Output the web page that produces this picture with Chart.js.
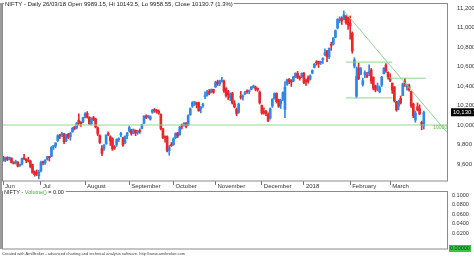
<!DOCTYPE html>
<html>
<head>
<meta charset="utf-8">
<script src="https://cdn.jsdelivr.net/npm/chart.js@4"></script>
<style>
  html, body { margin: 0; padding: 0; background: #fff; }
  body { width: 474px; height: 257px; position: relative; overflow: hidden; }
  #main { position: absolute; left: 0; top: 0; }
  #vol { position: absolute; left: 0; top: 190px; }
  #edge { position: absolute; left: 0; top: 3px; width: 2px; height: 246px; background: #9c9c9c; }
</style>
</head>
<body>
<canvas id="main" width="474" height="190" style="width:474px;height:190px"></canvas>
<canvas id="vol" width="474" height="67" style="width:474px;height:67px"></canvas>
<div id="edge"></div>
<script>
// NIFTY daily, 6 Jun 2017 .. 26 Mar 2018
const opens = [
  9675,9640,9665,9650,9660,9615,9615,9620,9585,9600,9665,9650,9640,9630,9595,9520,9515,9480,
  9530,9620,9610,9650,9675,9680,9780,9790,9840,9890,9900,9910,9840,9905,9880,9930,9980,9975,10050,10030,10030,
  10080,10120,10080,10010,10075,10060,9970,9890,9760,9760,9810,9910,9880,9860,9770,9800,9850,9900,9870,9820,9890,
  9940,9950,9920,9945,9925,9935,9965,10020,10090,10085,10060,10130,10155,10150,10140,10110,9960,9880,9880,9740,9790,
  9800,9870,9920,9900,10000,10000,10020,10000,10105,10195,10230,10225,10230,10165,10200,10290,10305,10345,10340,10365,
  10390,10440,10420,10450,10450,10375,10345,10280,10325,10220,10160,10130,10285,10290,10320,10345,10340,10365,10390,10390,10375,10335,
  10200,10130,10140,10110,10070,10195,10270,10325,10260,10215,10265,10160,10415,10470,10455,10450,10490,10530,10485,10495,
  10530,10460,10485,10470,10535,10590,10645,10650,10640,10670,10720,10760,10700,10820,10830,10900,10995,11075,11095,11080,11120,11100,
  11045,10940,10605,10295,10585,10520,10415,10518,10510,10525,10565,10490,10400,10390,10340,10410,10525,10615,10540,
  10480,10430,10390,10233,10193,10271,10301,10446,10394,10405,10345,10215,10051,10188,10167,10028,9989.15
];
const highs = [
  9678,9670,9675,9673,9665,9625,9640,9625,9600,9660,9700,9655,9670,9640,9600,9530,9540,9535,
  9630,9630,9645,9680,9680,9780,9790,9820,9900,9905,9925,9915,9905,9915,9925,9975,9985,10025,10115,10035,10080,
  10128,10138,10085,10075,10090,10070,9980,9900,9790,9800,9900,9930,9890,9870,9790,9860,9870,9925,9875,9890,9925,
  9990,9955,9960,9950,9945,9960,10010,10095,10105,10100,10095,10160,10170,10160,10155,10115,9965,9890,9890,9790,9820,
  9870,9920,9925,9985,10010,10025,10025,10105,10175,10240,10240,10235,10235,10190,10225,10340,10355,10365,10370,10368,
  10450,10460,10460,10490,10460,10385,10355,10330,10335,10250,10175,10225,10345,10310,10345,10360,10360,10395,10410,10400,10380,10350,
  10205,10175,10150,10125,10175,10270,10330,10330,10265,10265,10340,10445,10470,10475,10465,10500,10535,10550,10505,10535,
  10540,10470,10505,10515,10565,10632,10660,10655,10655,10690,10780,10765,10790,10850,10895,10975,11090,11110,11110,11171,11120,11110,
  11118,10955,10690,10595,10635,10590,10480,10555,10540,10618,10580,10495,10410,10430,10400,10500,10590,10630,10545,
  10525,10430,10395,10243,10255,10297,10430,10478,10420,10420,10346,10224,10143,10227,10207,10040,10143.5
];
const lows = [
  9630,9625,9635,9640,9610,9600,9600,9570,9575,9590,9645,9615,9620,9560,9505,9475,9480,9448,
  9520,9590,9595,9640,9630,9675,9750,9765,9830,9860,9880,9810,9830,9860,9845,9925,9950,9960,10000,9985,10025,
  10072,10070,10005,10000,10045,9970,9890,9810,9685,9740,9800,9890,9790,9740,9750,9780,9830,9880,9780,9810,9860,
  9925,9895,9910,9890,9905,9915,9960,10015,10065,10070,10050,10120,10130,10120,10110,9950,9860,9825,9725,9690,9780,
  9790,9860,9870,9895,9960,9990,9970,9995,10100,10180,10200,10175,10140,10125,10180,10270,10295,10310,10330,10325,
  10385,10405,10405,10440,10335,10285,10260,10250,10215,10175,10095,10120,10265,10255,10310,10325,10320,10360,10380,10350,10345,10215,
  10110,10110,10095,10035,10060,10180,10265,10225,10180,10170,10250,10075,10405,10425,10395,10445,10485,10475,10460,10485,
  10425,10405,10430,10460,10525,10585,10615,10590,10620,10630,10710,10650,10680,10765,10820,10895,10985,11050,11030,11080,11035,10980,
  10880,10736,10585,10276,10465,10515,10398,10485,10485,10505,10425,10360,10340,10350,10330,10395,10525,10540,10470,
  10445,10324,10235,10141,10155,10215,10301,10395,10356,10346,10180,10075,10028,10145,10105,9951,9958.55
];
const closes = [
  9637,9663,9647,9668,9616,9606,9618,9578,9588,9657,9653,9633,9630,9574,9511,9491,9504,9521,
  9615,9613,9637,9675,9665,9771,9786,9816,9891,9886,9915,9827,9899,9873,9915,9966,9964,10020,10020,10014,10077,
  10114,10081,10013,10066,10057,9978,9908,9820,9710,9794,9897,9904,9837,9754,9766,9852,9857,9912,9796,9884,9917,
  9974,9912,9952,9916,9930,9934,10006,10093,10079,10086,10085,10153,10147,10141,10121,9964,9872,9871,9735,9768,9788,
  9859,9914,9888,9979,9988,10016,9984,10096,10167,10230,10234,10210,10146,10184,10208,10295,10343,10323,10363,10335,
  10440,10424,10452,10451,10350,10303,10308,10321,10224,10186,10118,10214,10283,10298,10326,10342,10348,10389,10399,10370,10361,10226,
  10121,10127,10118,10044,10166,10265,10322,10240,10193,10252,10333,10389,10463,10444,10440,10493,10531,10490,10477,10530,
  10435,10442,10443,10504,10559,10623,10637,10632,10651,10681,10741,10700,10788,10817,10894,10966,11083,11086,11069,11130,11050,11028,
  11016,10761,10667,10498,10476,10577,10455,10539,10501,10545,10452,10378,10360,10397,10382,10491,10583,10555,10493,
  10458,10358,10249,10155,10243,10227,10421,10427,10411,10360,10195,10094,10124,10155,10114,9998,10130.7
];

const monthNames = ['Jun', 'Jul', 'August', 'September', 'October', 'November', 'December', '2018', 'February', 'March'];
const monthStarts = [0, 18, 39, 60, 81, 101, 123, 143, 165, 184];
const emptySlots = 11;

const priceTicks = [9600, 9800, 10000, 10200, 10400, 10600, 10800, 11000, 11200];
const volumeTicks = [0.02, 0.04, 0.06, 0.08, 0.1];

// hand drawn study lines: bar index from/to and price at each end
const lineFrom  = [0, 162, 163, 184, 163];
const lineTo    = [211, 211, 185, 201, 185];
const lineStart = [10000, 11171, 10645, 10480, 10278];
const lineEnd   = [10000, 9925, 10645, 10480, 10278];

const titleText = 'NIFTY - Daily 26/03/18 Open 9989.15, Hi 10143.5, Lo 9958.55, Close 10130.7 (1.3%)';

const upColor = '#2f87ea';
const downColor = '#e8272b';
const studyColor = '#8fd68f';
const frameColor = '#8a8a8a';
const FONT = '"Liberation Sans", Arial, sans-serif';

Chart.defaults.font.family = FONT;
Chart.defaults.animation = false;

const total = closes.length + emptySlots;
const labels = [];
for (let i = 0; i < total; i++) {
  const k = monthStarts.indexOf(i);
  labels.push(k >= 0 ? monthNames[k] : '');
}
const barColors = closes.map((c, i) => c >= opens[i] ? upColor : downColor);

const studySets = lineFrom.map((from, n) => {
  const pts = new Array(total).fill(null);
  pts[from] = lineStart[n];
  pts[lineTo[n]] = lineEnd[n];
  return {
    type: 'line',
    data: pts,
    borderColor: studyColor,
    borderWidth: 1,
    pointRadius: 0,
    spanGaps: true,
    order: 0
  };
});

const lastClose = closes[closes.length - 1];

// keep the plot boxes where the picture has them
function noPad(s) {
  s.paddingTop = 0; s.paddingBottom = 0; s.paddingLeft = 0; s.paddingRight = 0;
}

const mainDecor = {
  id: 'mainDecor',
  afterDraw(chart) {
    const { ctx, chartArea: a, scales } = chart;
    ctx.save();
    ctx.strokeStyle = frameColor;
    ctx.lineWidth = 1;
    ctx.strokeRect(a.left + 0.5, a.top + 0.5, a.right - a.left - 1, a.bottom - a.top - 0.5);

    // title sits on the top frame line
    ctx.font = '6px ' + FONT;
    ctx.textBaseline = 'middle';
    ctx.textAlign = 'left';
    const tw = ctx.measureText(titleText).width;
    ctx.fillStyle = '#fff';
    ctx.fillRect(a.left + 2, a.top - 3, tw + 2, 7);
    ctx.fillStyle = '#1a1a1a';
    ctx.fillText(titleText, a.left + 3, a.top + 1.5);

    // last close marker on the axis
    const y = scales.y.getPixelForValue(lastClose);
    ctx.fillStyle = '#000';
    ctx.fillRect(a.right + 3, y - 4, 30, 8);
    ctx.fillStyle = '#fff';
    ctx.fillText(lastClose.toLocaleString('en-US', { minimumFractionDigits: 1 }), a.right + 5, y + 0.5);

    // level of the horizontal study
    const ly = scales.y.getPixelForValue(lineStart[0]);
    ctx.font = '5px ' + FONT;
    ctx.fillStyle = '#5cbf5c';
    ctx.textAlign = 'right';
    ctx.fillText(String(lineStart[0]), a.right - 1, ly + 3);
    ctx.restore();
  }
};

new Chart(document.getElementById('main'), {
  type: 'bar',
  data: {
    labels: labels,
    datasets: [
      {
        data: lows.map((l, i) => [l, highs[i]]),
        backgroundColor: barColors,
        barThickness: 1,
        grouped: false,
        order: 2
      },
      {
        data: opens.map((o, i) => [o, closes[i]]),
        backgroundColor: barColors,
        barThickness: 2,
        minBarLength: 1,
        grouped: false,
        order: 1
      },
      ...studySets
    ]
  },
  options: {
    responsive: false,
    devicePixelRatio: 1,
    layout: { padding: { left: 2, top: 3, right: 0, bottom: 0 } },
    plugins: { legend: { display: false }, tooltip: { enabled: false } },
    scales: {
      x: {
        grid: { drawOnChartArea: false, drawTicks: true, tickLength: 4, offset: false, color: '#777' },
        border: { display: false },
        ticks: {
          autoSkip: false,
          maxRotation: 0,
          align: 'start',
          labelOffset: 2,
          padding: -2,
          color: '#333',
          font: { size: 6 },
          callback: function (v, i) { return labels[i] ? labels[i] : null; }
        },
        afterFit: s => { s.height = 9; noPad(s); }
      },
      y: {
        position: 'right',
        min: 9426,
        max: 11251,
        grid: { display: false, drawTicks: false },
        border: { display: false },
        afterBuildTicks: s => { s.ticks = priceTicks.map(v => ({ value: v })); },
        ticks: {
          padding: 9,
          color: '#333',
          font: { size: 6 },
          callback: v => v.toLocaleString('en-US')
        },
        afterFit: s => { s.width = 26; noPad(s); }
      }
    }
  },
  plugins: [mainDecor]
});

const volDecor = {
  id: 'volDecor',
  afterDraw(chart) {
    const { ctx, chartArea: a } = chart;
    ctx.save();
    ctx.strokeStyle = frameColor;
    ctx.lineWidth = 1;
    ctx.strokeRect(a.left + 0.5, a.top + 0.5, a.right - a.left - 1, a.bottom - a.top - 0.5);

    ctx.font = '5.5px ' + FONT;
    ctx.textBaseline = 'middle';
    ctx.textAlign = 'left';
    const parts = [['NIFTY - ', '#1a1a1a'], ['Volume()', '#3fae3f'], [' = 0.00', '#1a1a1a']];
    let w = 0;
    parts.forEach(p => { w += ctx.measureText(p[0]).width; });
    ctx.fillStyle = '#fff';
    ctx.fillRect(a.left + 1, a.top - 2, w + 3, 6);
    let x = a.left + 2;
    parts.forEach(p => {
      ctx.fillStyle = p[1];
      ctx.fillText(p[0], x, a.top + 1);
      x += ctx.measureText(p[0]).width;
    });

    // last value marker
    ctx.fillStyle = '#2fcc3a';
    ctx.fillRect(a.right + 1, a.bottom - 4, 22, 7);
    ctx.fillStyle = '#0a3a0a';
    ctx.fillText('0.00000', a.right + 2, a.bottom - 0.5);

    ctx.font = '4px ' + FONT;
    ctx.fillStyle = '#444';
    ctx.fillText('Created with AmiBroker - advanced charting and technical analysis software. http://www.amibroker.com', 2, a.bottom + 4.5);
    ctx.restore();
  }
};

new Chart(document.getElementById('vol'), {
  type: 'bar',
  data: { labels: labels, datasets: [] },
  options: {
    responsive: false,
    devicePixelRatio: 1,
    layout: { padding: { left: 2, top: 1, right: 0, bottom: 8 } },
    plugins: { legend: { display: false }, tooltip: { enabled: false } },
    scales: {
      x: { display: false },
      y: {
        position: 'right',
        min: -0.0125,
        max: 0.1083,
        grid: { display: false, drawTicks: false },
        border: { display: false },
        afterBuildTicks: s => { s.ticks = volumeTicks.map(v => ({ value: v })); },
        ticks: {
          padding: 4,
          color: '#333',
          font: { size: 5.5 },
          callback: v => v.toFixed(4)
        },
        afterFit: s => { s.width = 26; noPad(s); }
      }
    }
  },
  plugins: [volDecor]
});
</script>
</body>
</html>
